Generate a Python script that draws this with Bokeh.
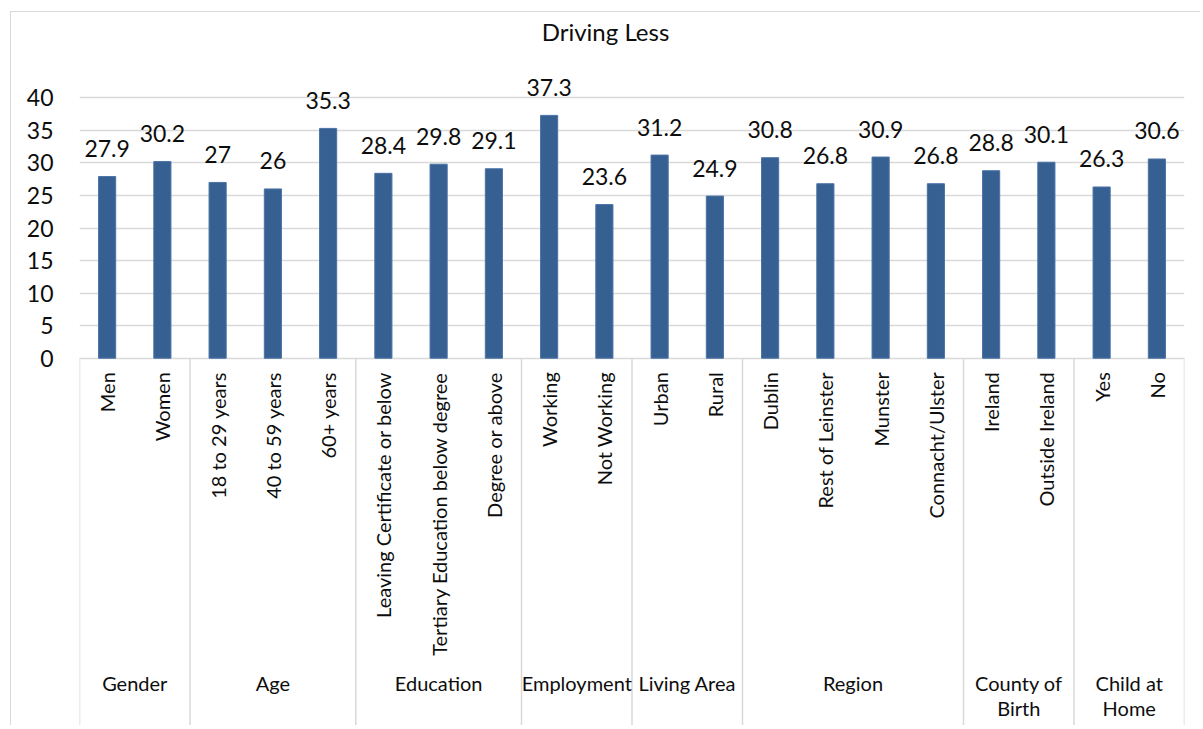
import math
from bokeh.plotting import figure
from bokeh.models import FixedTicker, ColumnDataSource, Range1d
from bokeh.core.properties import value
from bokeh.embed import file_html
from bokeh.resources import INLINE

# ---- data ----
groups = ["Gender", "Age", "Education", "Employment", "Living Area",
          "Region", "County of\nBirth", "Child at\nHome"]
group_sizes = [2, 3, 3, 2, 2, 4, 2, 2]
categories = ["Men", "Women",
              "18 to 29 years", "40 to 59 years", "60+ years",
              "Leaving Certificate or below", "Tertiary Education below degree", "Degree or above",
              "Working", "Not Working",
              "Urban", "Rural",
              "Dublin", "Rest of Leinster", "Munster", "Connacht/Ulster",
              "Ireland", "Outside Ireland",
              "Yes", "No"]
values = [27.9, 30.2, 27, 26, 35.3, 28.4, 29.8, 29.1, 37.3, 23.6,
          31.2, 24.9, 30.8, 26.8, 30.9, 26.8, 28.8, 30.1, 26.3, 30.6]
y_ticks = [0, 5, 10, 15, 20, 25, 30, 35, 40]
title_text = "Driving Less"

# ---- layout (pixels, canvas coordinates) ----
W, H = 1190, 714
FRAME_L, FRAME_R = 68, 1173
FRAME_T, FRAME_B = 0, 714
Y0_PX, Y40_PX = 345.7, 85.3          # canvas y of value 0 and 40
px_per_unit = (Y0_PX - Y40_PX) / 40.0
y_top = 40 + (Y40_PX - FRAME_T) / px_per_unit
y_bot = -(FRAME_B - Y0_PX) / px_per_unit

FONT = "Lato"
TXT = "#0d0d0d"
BAR = "#376092"
GRID = "#d9d9d9"

n = len(categories)
xs = list(range(n))

p = figure(width=W, height=H, output_backend="svg", toolbar_location=None,
           x_range=Range1d(-0.5, n - 0.5), y_range=Range1d(y_bot, y_top),
           min_border_left=FRAME_L, min_border_right=W - FRAME_R,
           min_border_top=FRAME_T, min_border_bottom=0)
p.outline_line_color = None
p.background_fill_color = "white"
p.border_fill_color = "white"
p.styles = {"margin-left": "10px", "margin-top": "11px",
            "border-left": "1px solid #d9d9d9", "border-top": "1px solid #d9d9d9"}

p.xaxis.visible = False
p.xgrid.visible = False
p.yaxis.ticker = FixedTicker(ticks=y_ticks)
p.yaxis.axis_line_color = None
p.yaxis.major_tick_line_color = None
p.yaxis.minor_tick_line_color = None
p.yaxis.major_tick_out = 0
p.yaxis.major_label_standoff = 26
p.yaxis.major_label_text_font = FONT
p.yaxis.major_label_text_font_size = "23px"
p.yaxis.major_label_text_color = TXT
p.ygrid.ticker = FixedTicker(ticks=y_ticks)
p.ygrid.grid_line_color = GRID
p.ygrid.grid_line_width = 1.5

# group separators
bounds = [-0.5]
for s in group_sizes:
    bounds.append(bounds[-1] + s)
p.segment(x0=bounds, x1=bounds, y0=[0] * len(bounds), y1=[y_bot] * len(bounds),
          line_color=GRID, line_width=1.5)

src = ColumnDataSource(dict(x=xs, top=values, zero=[0] * n, cat=categories,
                            lab=[("%g" % v) for v in values]))
p.vbar(x="x", top="top", width=0.31, source=src, fill_color=BAR,
       line_color="#4a72a6", line_width=1)

# value labels
p.text(x="x", y="top", text="lab", source=src, y_offset=-28,
       text_align="center", text_baseline="middle",
       text_font=value(FONT), text_font_size="23px", text_color=TXT)

# category labels (vertical)
p.text(x="x", y="zero", text="cat", source=src, y_offset=14, angle=math.pi / 2,
       text_align="right", text_baseline="middle",
       text_font=value(FONT), text_font_size="20px", text_color=TXT)

# group labels
gx = [(bounds[i] + bounds[i + 1]) / 2 for i in range(len(groups))]
p.text(x=gx, y=[0] * len(groups), text=groups, y_offset=313,
       text_align="center", text_baseline="top", text_line_height=1.05,
       text_font=value(FONT), text_font_size="20px", text_color=TXT)

# title
p.text(x=[(n - 1) / 2], y=[40], text=[title_text], x_offset=-26.5, y_offset=-66,
       text_align="center", text_baseline="middle",
       text_font=value(FONT), text_font_size="24px", text_color=TXT)

open("out.html", "w").write(file_html(p, INLINE))
